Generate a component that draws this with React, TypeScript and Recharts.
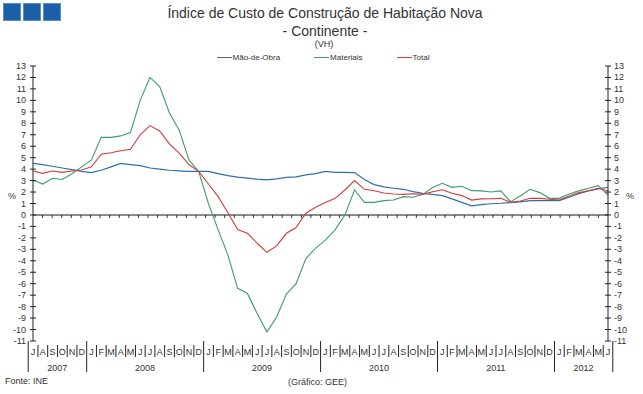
import React from 'react';
import { ComposedChart, Line, XAxis, YAxis, ReferenceLine } from 'recharts';

const categories = [
  '2007-07','2007-08','2007-09','2007-10','2007-11','2007-12',
  '2008-01','2008-02','2008-03','2008-04','2008-05','2008-06','2008-07','2008-08','2008-09','2008-10','2008-11','2008-12',
  '2009-01','2009-02','2009-03','2009-04','2009-05','2009-06','2009-07','2009-08','2009-09','2009-10','2009-11','2009-12',
  '2010-01','2010-02','2010-03','2010-04','2010-05','2010-06','2010-07','2010-08','2010-09','2010-10','2010-11','2010-12',
  '2011-01','2011-02','2011-03','2011-04','2011-05','2011-06','2011-07','2011-08','2011-09','2011-10','2011-11','2011-12',
  '2012-01','2012-02','2012-03','2012-04','2012-05','2012-06',
];

const maoDeObra = [
  4.5, 4.4, 4.25, 4.1, 3.95, 3.8,
  3.7, 3.9, 4.2, 4.5, 4.4, 4.3, 4.1, 4.0, 3.9, 3.85, 3.8, 3.8,
  3.8, 3.6, 3.43, 3.3, 3.22, 3.12, 3.07, 3.15, 3.28, 3.32, 3.5, 3.6,
  3.8, 3.72, 3.72, 3.7, 3.1, 2.65, 2.45, 2.33, 2.24, 2.03, 1.89, 1.8,
  1.68, 1.4, 1.1, 0.8, 0.9, 0.98, 1.02, 1.08, 1.15, 1.25, 1.25, 1.25,
  1.25, 1.55, 1.85, 2.1, 2.27, 2.42,
];

const materiais = [
  3.05, 2.7, 3.2, 3.1, 3.6, 4.2,
  4.8, 6.77, 6.77, 6.9, 7.2, 10.0, 12.0, 11.2, 8.9, 7.4, 4.8, 3.8,
  1.0, -1.3, -3.5, -6.4, -6.85, -8.6, -10.2, -8.9, -6.9, -6.0, -3.8, -2.9,
  -2.2, -1.3, 0.0, 2.2, 1.1, 1.1, 1.25, 1.3, 1.6, 1.55, 1.8, 2.4,
  2.76, 2.41, 2.5, 2.12, 2.1, 2.0, 2.1, 1.16, 1.66, 2.24, 1.95, 1.45,
  1.45, 1.83, 2.1, 2.33, 2.56, 1.74,
];

const total = [
  3.84, 3.63, 3.84, 3.72, 3.84, 3.92,
  4.2, 5.3, 5.43, 5.6, 5.73, 7.0, 7.8, 7.33, 6.2, 5.4, 4.4, 3.8,
  2.7, 1.6, 0.2, -1.28, -1.6, -2.47, -3.26, -2.7, -1.6, -1.1, 0.15, 0.67,
  1.08, 1.45, 2.18, 3.0, 2.24, 2.12, 1.92, 1.83, 1.8, 1.85, 1.8, 2.02,
  2.2, 1.89, 1.69, 1.3, 1.4, 1.42, 1.45, 1.1, 1.22, 1.45, 1.45, 1.37,
  1.3, 1.66, 1.95, 2.12, 2.33, 2.12,
];

const yTicks = [13, 12, 11, 10, 9, 8, 7, 6, 5, 4, 3, 2, 1, 0, -1, -2, -3, -4, -5, -6, -7, -8, -9, -10, -11];
const monthLetters = ['J', 'F', 'M', 'A', 'M', 'J', 'J', 'A', 'S', 'O', 'N', 'D'];

const seriesNames = ['Mão-de-Obra', 'Materiais', 'Total'];
const seriesColors = ['#2f6fab', '#3b9e68', '#d23c3c'];

const data = categories.map((c, i) => ({
  cat: c,
  mao: maoDeObra[i],
  mat: materiais[i],
  tot: total[i],
}));

const W = 643;
const H = 394;
const M_TOP = 66;
const Y_LEFT_W = 33;
const Y_RIGHT_W = 35;
const X_H = 53;
const BAND = (W - Y_LEFT_W - Y_RIGHT_W) / categories.length;
const FONT = '"Liberation Sans", Arial, sans-serif';
const TXT = '#333';

const yearOf = (c: string) => c.slice(0, 4);
const monthOf = (c: string) => parseInt(c.slice(5), 10);

const MonthTick = (props: any) => {
  const { x, y, payload } = props;
  const i = payload.index;
  const cat = categories[i];
  const m = monthOf(cat);
  const left = x - BAND / 2;
  const yearStart = i === 0 || m === 1;
  const yr = yearOf(cat);
  const idxs = categories.map((c, k) => (yearOf(c) === yr ? k : -1)).filter((k) => k >= 0);
  const first = idxs[0];
  const last = idxs[idxs.length - 1];
  const isMid = i === Math.floor((first + last) / 2);
  const yearX = x + ((first + last) / 2 - i) * BAND;
  return (
    <g>
      <line x1={left} x2={left} y1={yearStart ? y : y + 4} y2={yearStart ? y + 31 : y + 16} stroke="#222" strokeWidth={1} />
      {i === categories.length - 1 && (
        <line x1={x + BAND / 2} x2={x + BAND / 2} y1={y} y2={y + 31} stroke="#222" strokeWidth={1} />
      )}
      <text x={x} y={y + 14} textAnchor="middle" fontSize={9} fill={TXT} fontFamily={FONT}>
        {monthLetters[m - 1]}
      </text>
      {isMid && (
        <text x={yearX} y={y + 30} textAnchor="middle" fontSize={9} fill={TXT} fontFamily={FONT}>
          {yr}
        </text>
      )}
    </g>
  );
};

const LeftTick = (props: any) => {
  const { x, y, payload } = props;
  return (
    <g>
      <line x1={x - 3} x2={x + 3} y1={y} y2={y} stroke="#222" />
      <text x={x - 7} y={y + 3} textAnchor="end" fontSize={9} fill={TXT} fontFamily={FONT}>
        {payload.value}
      </text>
    </g>
  );
};

const RightTick = (props: any) => {
  const { x, y, payload } = props;
  return (
    <g>
      <line x1={x - 3} x2={x + 3} y1={y} y2={y} stroke="#222" />
      <text x={x + 6} y={y + 3} textAnchor="start" fontSize={9} fill={TXT} fontFamily={FONT}>
        {payload.value}
      </text>
    </g>
  );
};

const ZeroLine = (props: any) => {
  const { x1, x2, y1 } = props;
  const n = categories.length;
  const step = (x2 - x1) / n;
  const ticks = [];
  for (let k = 1; k < n; k++) {
    ticks.push(<line key={k} x1={x1 + k * step} x2={x1 + k * step} y1={y1} y2={y1 + 3} stroke="#333" strokeWidth={1} />);
  }
  return (
    <g>
      <line x1={x1} x2={x2} y1={y1} y2={y1} stroke="#8a8a8a" strokeWidth={2} />
      {ticks}
    </g>
  );
};

export default function App() {
  return (
    <div style={{ position: 'absolute', left: 0, top: 0, width: W, height: H, background: '#fff', fontFamily: FONT, color: TXT }}>
      <div style={{ position: 'absolute', left: 3, top: 3, display: 'flex', gap: 2 }}>
        {[0, 1, 2].map((k) => (
          <div key={k} style={{ width: 16, height: 16, background: '#1b5fa8', border: '1px solid #5b8fc8' }} />
        ))}
      </div>
      <div style={{ position: 'absolute', left: 0, width: 650, top: 5, textAlign: 'center', fontSize: 14, lineHeight: '16px' }}>
        Índice de Custo de Construção de Habitação Nova
      </div>
      <div style={{ position: 'absolute', left: 0, width: 650, top: 23, textAlign: 'center', fontSize: 14, lineHeight: '16px' }}>
        - Continente -
      </div>
      <div style={{ position: 'absolute', left: 0, width: 648, top: 39, textAlign: 'center', fontSize: 9, lineHeight: '11px' }}>
        (VH)
      </div>
      <div style={{ position: 'absolute', left: 0, width: 646, top: 52, display: 'flex', justifyContent: 'center', gap: 34, fontSize: 8, lineHeight: '11px' }}>
        {seriesNames.map((n, k) => (
          <div key={n} style={{ display: 'flex', alignItems: 'center' }}>
            <div style={{ width: 15, height: 0, borderTop: `1.5px solid ${seriesColors[k]}`, marginRight: 1 }} />
            <span>{n}</span>
          </div>
        ))}
      </div>
      <div style={{ position: 'absolute', left: 8, top: 191, fontSize: 9 }}>%</div>
      <div style={{ position: 'absolute', left: 626, top: 191, fontSize: 9 }}>%</div>
      <div style={{ position: 'absolute', left: 5, top: 376, fontSize: 9 }}>Fonte: INE</div>
      <div style={{ position: 'absolute', left: 288, top: 377, fontSize: 9 }}>(Gráfico: GEE)</div>
      <div style={{ position: 'absolute', left: 0, top: 0 }}>
        <ComposedChart width={W} height={H} data={data} margin={{ top: M_TOP, right: 0, bottom: 0, left: 0 }}>
          <XAxis
            dataKey="cat"
            interval={0}
            height={X_H}
            tickLine={false}
            axisLine={false}
            tickSize={0}
            tickMargin={0}
            tick={<MonthTick />}
          />
          <YAxis
            yAxisId="l"
            orientation="left"
            width={Y_LEFT_W}
            domain={[-11, 13]}
            ticks={yTicks}
            interval={0}
            tickLine={false}
            tickSize={0}
            tickMargin={0}
            axisLine={{ stroke: '#222' }}
            tick={<LeftTick />}
          />
          <YAxis
            yAxisId="r"
            orientation="right"
            width={Y_RIGHT_W}
            domain={[-11, 13]}
            ticks={yTicks}
            interval={0}
            tickLine={false}
            tickSize={0}
            tickMargin={0}
            axisLine={{ stroke: '#222' }}
            tick={(p: any) => <RightTick {...p} />}
          />
          <ReferenceLine yAxisId="l" y={0} shape={(p: any) => <ZeroLine {...p} />} />
          <Line yAxisId="l" type="linear" dataKey="mao" name={seriesNames[0]} stroke={seriesColors[0]} strokeWidth={1.2} dot={false} isAnimationActive={false} />
          <Line yAxisId="l" type="linear" dataKey="mat" name={seriesNames[1]} stroke={seriesColors[1]} strokeWidth={1.1} dot={false} isAnimationActive={false} />
          <Line yAxisId="r" type="linear" dataKey="tot" name={seriesNames[2]} stroke={seriesColors[2]} strokeWidth={1.1} dot={false} isAnimationActive={false} />
        </ComposedChart>
      </div>
    </div>
  );
}
